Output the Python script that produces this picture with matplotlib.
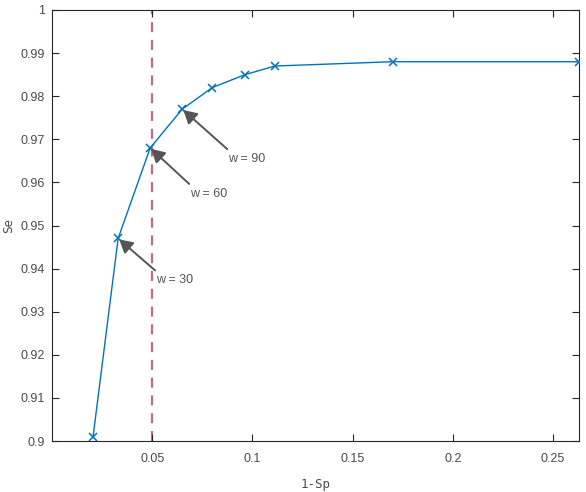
import matplotlib
matplotlib.use("Agg")
import matplotlib.pyplot as plt

# 1 - specificity vs sensitivity for different window sizes
one_minus_sp = [0.0205, 0.0330, 0.0490, 0.0650, 0.0800, 0.0963, 0.1112, 0.1700, 0.2630]
se = [0.901, 0.947, 0.968, 0.977, 0.982, 0.985, 0.987, 0.988, 0.988]

threshold = 0.05

# annotated points (index into the series), label, and arrow tail offset in pixels
notes_idx = [1, 2, 3]
notes_text = ["w = 30", "w = 60", "w = 90"]
notes_tail = [(37, -32), (39, -36), (45, -40)]

xticks = [0.05, 0.1, 0.15, 0.2, 0.25]
xtick_labels = ["0.05", "0.1", "0.15", "0.2", "0.25"]
yticks = [0.9, 0.91, 0.92, 0.93, 0.94, 0.95, 0.96, 0.97, 0.98, 0.99, 1.0]
ytick_labels = ["0.9", "0.91", "0.92", "0.93", "0.94", "0.95", "0.96", "0.97", "0.98", "0.99", "1"]

plt.rcParams["font.family"] = ["Liberation Sans", "DejaVu Sans"]

fig = plt.figure(figsize=(5.86, 4.92), dpi=100)
ax = fig.add_axes([52 / 586, 1 - 441 / 492, 527 / 586, 431 / 492])

ax.axvline(threshold, color="#c46a85", lw=1.6, ls=(0, (4.5, 3.5)), zorder=1)
ax.plot(one_minus_sp, se, color="#0072bd", lw=1.0, marker="x", ms=5.5, mew=1.1, zorder=3)

for i, label, (dx, dy) in zip(notes_idx, notes_text, notes_tail):
    p = (one_minus_sp[i], se[i])
    ax.annotate("", xy=p, xytext=(dx, dy), textcoords="offset pixels",
                arrowprops=dict(arrowstyle="-|>,head_length=0.5,head_width=0.28",
                                color="#555555", lw=1.4,
                                mutation_scale=16, shrinkA=0, shrinkB=1))
    ax.annotate(label, xy=p, xytext=(dx + 1, dy - 10), textcoords="offset pixels",
                ha="left", va="center", fontsize=9, color="#555555")

ax.set_xlim(0, one_minus_sp[-1])
ax.set_ylim(0.9, 1.0)
ax.set_xticks(xticks)
ax.set_xticklabels(xtick_labels)
ax.set_yticks(yticks)
ax.set_yticklabels(ytick_labels)

ax.tick_params(direction="in", length=5, width=0.8, top=True, right=True,
               labelsize=9, colors="#262626", labelcolor="#4a4a4a", pad=5)
ax.tick_params(axis="x", pad=9)
for s in ax.spines.values():
    s.set_color("#262626")
    s.set_linewidth(0.8)

ax.set_xlabel("1-Sp", fontsize=9, color="#4a4a4a", family="DejaVu Sans Mono", labelpad=9)
ax.set_ylabel("Se", fontsize=9, color="#4a4a4a", family="DejaVu Sans Mono", labelpad=4)

fig.savefig("out.png", dpi=100)
